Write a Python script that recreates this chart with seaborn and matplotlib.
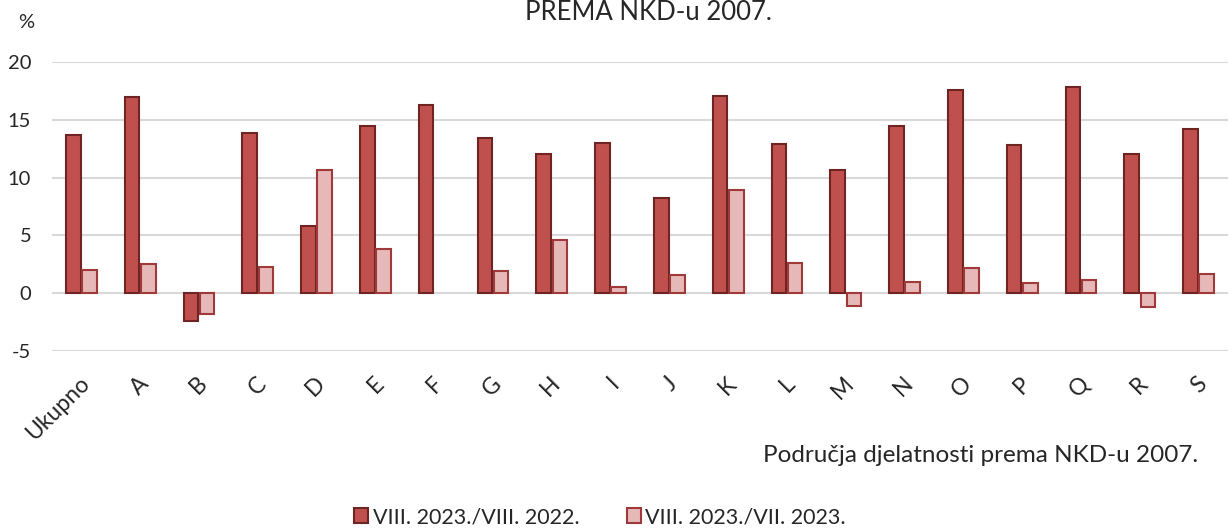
import numpy as np
import pandas as pd
import matplotlib
matplotlib.use("Agg")
import matplotlib.pyplot as plt
import matplotlib.transforms as mtransforms
from matplotlib.patches import Patch
import seaborn as sns

categories = ["Ukupno", "A", "B", "C", "D", "E", "F", "G", "H", "I", "J",
              "K", "L", "M", "N", "O", "P", "Q", "R", "S"]
series_names = ["VIII. 2023./VIII. 2022.", "VIII. 2023./VII. 2023."]
yoy = [13.7, 17.0, -2.4, 13.9, 5.8, 14.5, 16.3, 13.4, 12.0, 13.0, 8.2,
       17.1, 12.9, 10.7, 14.5, 17.6, 12.8, 17.8, 12.0, 14.2]
mom = [2.0, 2.5, -1.8, 2.3, 10.7, 3.8, 0.0, 1.9, 4.6, 0.5, 1.6,
       8.9, 2.6, -1.1, 1.0, 2.2, 0.9, 1.1, -1.2, 1.7]
yticks = [-5, 0, 5, 10, 15, 20]

df = pd.DataFrame({
    "cat": categories * 2,
    "val": yoy + mom,
    "series": [series_names[0]] * len(categories) + [series_names[1]] * len(categories),
})

sns.set_style("white")
plt.rcParams["font.family"] = ["Lato", "DejaVu Sans"]

fill_colors = ["#C0504D", "#E6B9B8"]
edge_colors = ["#6E2422", "#A0393A"]

W, H = 1229, 529
fig = plt.figure(figsize=(W / 100, H / 100), dpi=100)
ax = fig.add_axes([52 / W, 1 - 351 / H, 1176 / W, (351 - 62) / H])

sns.barplot(data=df, x="cat", y="val", hue="series", palette=fill_colors,
            width=0.55, gap=0.1, ax=ax, legend=False, saturation=1)

for i, container in enumerate(ax.containers):
    for p in container:
        p.set_edgecolor(edge_colors[i])
        p.set_linewidth(1.5)
        if p.get_height() == 0:
            p.set_linewidth(0)

ax.set_ylim(-5, 20)
ax.set_xlim(-0.5, len(categories) - 0.5)
ax.set_yticks(yticks)
ax.set_yticklabels([str(t) for t in yticks], fontsize=14.5)
ax.yaxis.grid(True, color="#D9D9D9", linewidth=1.5)
ax.set_axisbelow(True)
for s in ax.spines.values():
    s.set_visible(False)
ax.tick_params(axis="both", length=0)
ax.tick_params(axis="y", pad=15)
ax.set_xlabel("")
ax.set_ylabel("")
ax.tick_params(axis="x", pad=21)
offset = mtransforms.ScaledTranslation(5 / 100, 0, fig.dpi_scale_trans)
for lab in ax.get_xticklabels():
    lab.set_rotation(45)
    lab.set_ha("right")
    lab.set_va("center")
    lab.set_rotation_mode("anchor")
    lab.set_fontsize(16.5)
    lab.set_transform(lab.get_transform() + offset)

fig.text(648 / W, 1 - 12 / H, "PREMA NKD-u 2007.", ha="center", va="center", fontsize=18.5)
fig.text(26 / W, 1 - 23 / H, "%", ha="center", va="center", fontsize=14.5)
fig.text(1198 / W, 1 - 455 / H, "Područja djelatnosti prema NKD-u 2007.",
         ha="right", va="center", fontsize=17.5)

handles = [Patch(facecolor=fill_colors[i], edgecolor=edge_colors[i], linewidth=1.5)
           for i in range(2)]
fig.legend(handles, series_names, loc="center", bbox_to_anchor=(600 / W, 1 - 517 / H),
           ncol=2, frameon=False, fontsize=15.5, handlelength=0.65, handleheight=0.65,
           handletextpad=0.2, columnspacing=2.2)

fig.savefig("out.png", dpi=100)
